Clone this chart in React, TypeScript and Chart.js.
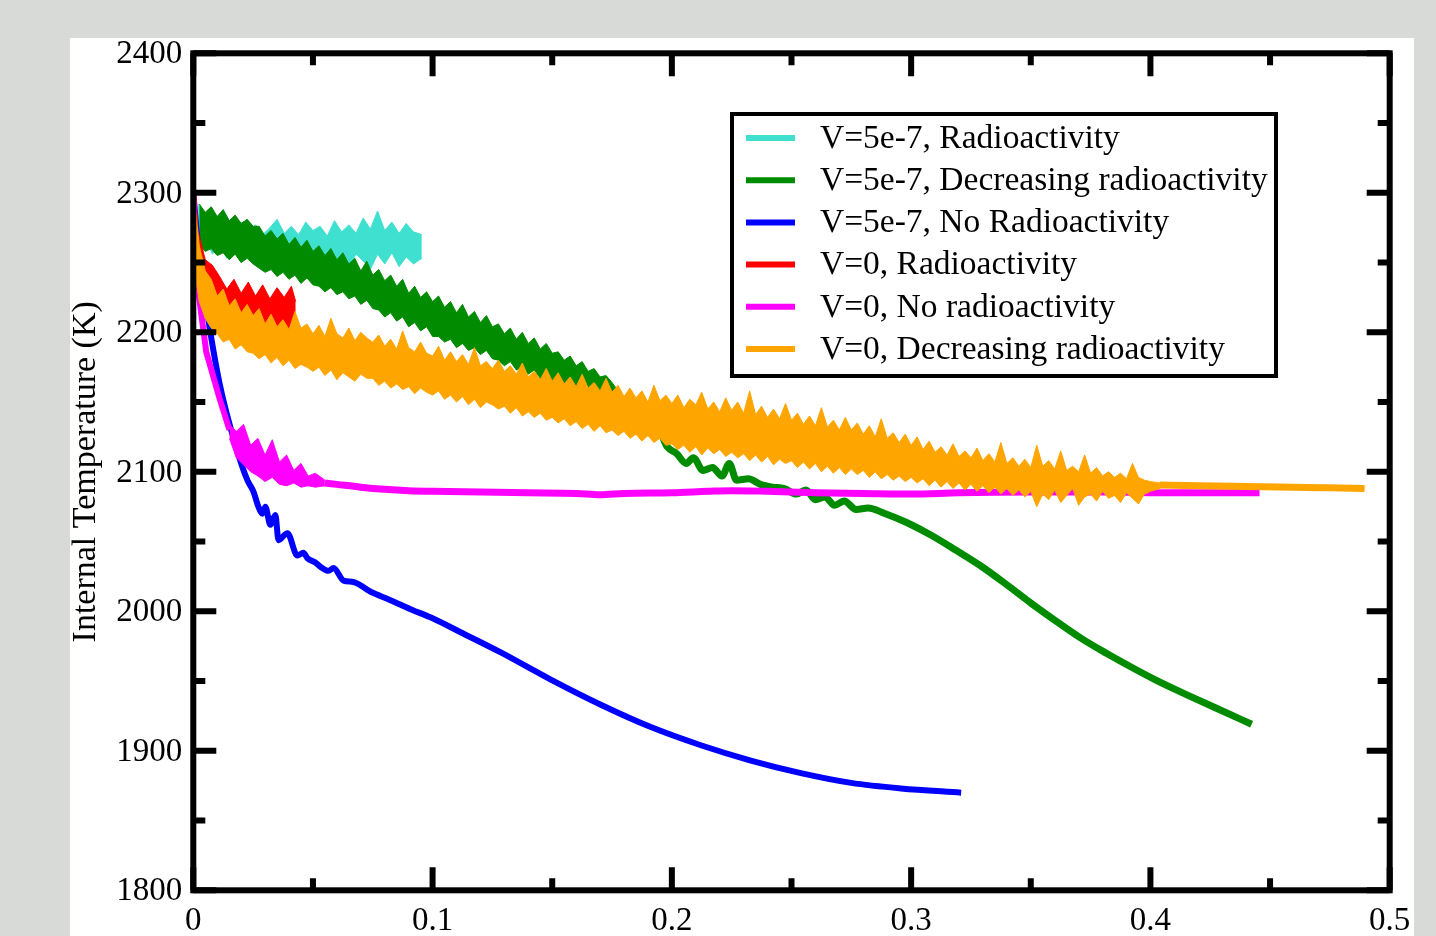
import React, { useEffect, useRef } from 'react';
import { Chart, registerables } from 'chart.js';

Chart.register(...registerables);

const FONT = '"Liberation Serif", "Times New Roman", serif';

// ---- legend ----
const legendLabels = [
  'V=5e-7, Radioactivity',
  'V=5e-7, Decreasing radioactivity',
  'V=5e-7, No Radioactivity',
  'V=0, Radioactivity',
  'V=0, No radioactivity',
  'V=0, Decreasing radioactivity',
];
const legendColors = ['#40e0d0', '#008b00', '#0000ff', '#ff0000', '#ff00ff', '#ffa500'];

// ---- ticks ----
const xMajorTicks = [0, 0.1, 0.2, 0.3, 0.4, 0.5];
const xMinorTicks = [0.05, 0.15, 0.25, 0.35, 0.45];
const yMajorTicks = [1800, 1900, 2000, 2100, 2200, 2300, 2400];
const yMinorTicks = [1850, 1950, 2050, 2150, 2250, 2350];

// ---- V=5e-7, Radioactivity (noisy band: upper / lower envelope) ----
const cyanX = [0.002, 0.005, 0.008, 0.011, 0.014, 0.017, 0.020, 0.023, 0.026, 0.029, 0.032, 0.035, 0.038, 0.041, 0.044, 0.047, 0.050, 0.053, 0.056, 0.059, 0.062, 0.065, 0.068, 0.071, 0.074, 0.077, 0.080, 0.083, 0.086, 0.089, 0.092, 0.0955];
const cyanUpper = [2292, 2281, 2287, 2276, 2283, 2274, 2279, 2272, 2277, 2270, 2275, 2281, 2271, 2276, 2270, 2279, 2273, 2276, 2269, 2280, 2272, 2277, 2271, 2282, 2274, 2287, 2273, 2279, 2271, 2278, 2272, 2270];
const cyanLower = [2262, 2268, 2256, 2263, 2253, 2259, 2250, 2257, 2249, 2255, 2251, 2258, 2247, 2255, 2250, 2257, 2244, 2253, 2256, 2249, 2255, 2247, 2256, 2251, 2245, 2256, 2249, 2257, 2247, 2254, 2249, 2253];

// ---- V=5e-7, Decreasing radioactivity ----
const greenX = [
  0.0025, 0.005, 0.0075, 0.01, 0.0125, 0.015, 0.0175, 0.02, 0.0225, 0.025,
  0.0275, 0.03, 0.0325, 0.035, 0.0375, 0.04, 0.0425, 0.045, 0.0475, 0.05,
  0.0525, 0.055, 0.0575, 0.06, 0.0625, 0.065, 0.0675, 0.07, 0.0725, 0.075,
  0.0775, 0.08, 0.0825, 0.085, 0.0875, 0.09, 0.0925, 0.095, 0.0975, 0.1,
  0.1025, 0.105, 0.1075, 0.11, 0.1125, 0.115, 0.1175, 0.12, 0.1225, 0.125,
  0.1275, 0.13, 0.1325, 0.135, 0.1375, 0.14, 0.1425, 0.145, 0.1475, 0.15,
  0.1525, 0.155, 0.1575, 0.16, 0.1625, 0.165, 0.1675, 0.17, 0.1725, 0.175,
  0.1775, 0.18,
];
const greenUpper = [
  2292, 2286, 2290, 2283, 2288, 2280, 2284, 2278, 2281, 2276,
  2276, 2269, 2273, 2267, 2271, 2263, 2268, 2261, 2266, 2258,
  2262, 2255, 2260, 2252, 2257, 2249, 2253, 2244, 2251, 2241,
  2245, 2237, 2241, 2233, 2238, 2228, 2233, 2225, 2229, 2222,
  2226, 2218, 2222, 2214, 2220, 2211, 2215, 2207, 2212, 2204,
  2206, 2199, 2203, 2195, 2200, 2192, 2196, 2188, 2192, 2185,
  2186, 2180, 2183, 2176, 2179, 2172, 2174, 2168, 2169, 2164,
  2158, 2150,
];
const greenLower = [
  2262, 2258, 2260, 2255, 2257, 2252, 2256, 2250, 2253, 2249,
  2246, 2243, 2245, 2240, 2243, 2238, 2241, 2235, 2239, 2234,
  2233, 2229, 2232, 2227, 2229, 2224, 2226, 2220, 2223, 2217,
  2216, 2211, 2214, 2208, 2211, 2204, 2207, 2201, 2204, 2197,
  2197, 2193, 2195, 2189, 2192, 2187, 2189, 2184, 2187, 2181,
  2180, 2176, 2179, 2173, 2175, 2170, 2173, 2167, 2170, 2164,
  2166, 2161, 2163, 2158, 2160, 2154, 2156, 2151, 2152, 2147,
  2145, 2141,
];
const greenLineX = [0.18, 0.185, 0.19, 0.194, 0.198, 0.202, 0.206, 0.209, 0.213, 0.217, 0.221, 0.224, 0.227, 0.232, 0.237, 0.242, 0.247, 0.252, 0.256, 0.260, 0.264, 0.268, 0.272, 0.277, 0.282, 0.2887, 0.2979, 0.3084, 0.3188, 0.3293, 0.3397, 0.3502, 0.3607, 0.3711, 0.3816, 0.3921, 0.4025, 0.413, 0.4276, 0.4423];
const greenLineY = [2143, 2136, 2128, 2131, 2118, 2113, 2106, 2110, 2101, 2103, 2097, 2106, 2094, 2095, 2091, 2089, 2088, 2084, 2087, 2080, 2082, 2076, 2079, 2073, 2074, 2070.3, 2063.8, 2054.5, 2043.7, 2032.3, 2019.4, 2005.7, 1992.8, 1980.6, 1969.9, 1959.9, 1950.5, 1941.9, 1930.5, 1919];

// ---- V=5e-7, No Radioactivity ----
const blueX = [0, 0.002, 0.0054, 0.0109, 0.018, 0.0226, 0.0251, 0.0272, 0.0289, 0.0301, 0.0322, 0.0343, 0.0356, 0.0393, 0.0435, 0.046, 0.0477, 0.051, 0.0531, 0.0565, 0.0586, 0.0628, 0.0669, 0.0741, 0.0824, 0.0908, 0.1, 0.1117, 0.1285, 0.1494, 0.1703, 0.1912, 0.2121, 0.233, 0.2539, 0.2749, 0.2958, 0.3209];
const blueY = [2300, 2262, 2219, 2164, 2117, 2094, 2086, 2075, 2070, 2075, 2062, 2069, 2051, 2056, 2040, 2042, 2038, 2035, 2032, 2029, 2031, 2022, 2021, 2014, 2008, 2001.5, 1995, 1985, 1970.5, 1951, 1933, 1917, 1904, 1893, 1884, 1877, 1873, 1870];

// ---- V=0, Radioactivity (noisy band) ----
const redX = [0.0005, 0.002, 0.005, 0.008, 0.011, 0.014, 0.017, 0.020, 0.023, 0.026, 0.029, 0.032, 0.035, 0.038, 0.041, 0.0428];
const redUpper = [2316, 2272, 2252, 2248, 2240, 2231, 2238, 2228, 2236, 2226, 2234, 2224, 2232, 2225, 2233, 2222];
const redLower = [2292, 2250, 2228, 2219, 2211, 2207, 2209, 2203, 2206, 2201, 2204, 2199, 2203, 2198, 2201, 2203];

// ---- V=0, No radioactivity ----
const magDropX = [0, 0.0013, 0.0054, 0.0109, 0.0151];
const magDropY = [2298, 2240, 2186, 2153, 2130];
const magBandX = [0.0151, 0.018, 0.021, 0.024, 0.027, 0.030, 0.033, 0.036, 0.039, 0.042, 0.045, 0.048, 0.051, 0.055];
const magUpper = [2134, 2129, 2134, 2119, 2124, 2112, 2123, 2107, 2112, 2101, 2106, 2097, 2099, 2094];
const magLower = [2124, 2110, 2105, 2100, 2097, 2093, 2096, 2091, 2090, 2092, 2089, 2090, 2089, 2090];
const magFlatX = [0.055, 0.06, 0.07, 0.08, 0.09, 0.1, 0.12, 0.14, 0.16, 0.17, 0.18, 0.2, 0.215, 0.225, 0.24, 0.26, 0.28, 0.3, 0.32, 0.35, 0.38, 0.41, 0.4456];
const magFlatY = [2092, 2091, 2089, 2087.5, 2086.5, 2086, 2085.5, 2085, 2084.5, 2083.5, 2084.5, 2085, 2086, 2086.5, 2086, 2085, 2084.5, 2084, 2085, 2085.5, 2085.5, 2085, 2085];

// ---- V=0, Decreasing radioactivity ----
const orangeX = [
  0, 0.0025, 0.005, 0.0075, 0.01, 0.0125, 0.015, 0.0175, 0.02, 0.0225,
  0.025, 0.0275, 0.03, 0.0325, 0.035, 0.0375, 0.04, 0.0425, 0.045, 0.0475,
  0.05, 0.0525, 0.055, 0.0575, 0.06, 0.0625, 0.065, 0.0675, 0.07, 0.0725,
  0.075, 0.0775, 0.08, 0.0825, 0.085, 0.0875, 0.09, 0.0925, 0.095, 0.0975,
  0.1, 0.1025, 0.105, 0.1075, 0.11, 0.1125, 0.115, 0.1175, 0.12, 0.1225,
  0.125, 0.1275, 0.13, 0.1325, 0.135, 0.1375, 0.14, 0.1425, 0.145, 0.1475,
  0.15, 0.1525, 0.155, 0.1575, 0.16, 0.1625, 0.165, 0.1675, 0.17, 0.1725,
  0.175, 0.1775, 0.18, 0.1825, 0.185, 0.1875, 0.19, 0.1925, 0.195, 0.1975,
  0.2, 0.2025, 0.205, 0.2075, 0.21, 0.2125, 0.215, 0.2175, 0.22, 0.2225,
  0.225, 0.2275, 0.23, 0.2325, 0.235, 0.2375, 0.24, 0.2425, 0.245, 0.2475,
  0.25, 0.2525, 0.255, 0.2575, 0.26, 0.2625, 0.265, 0.2675, 0.27, 0.2725,
  0.275, 0.2775, 0.28, 0.2825, 0.285, 0.2875, 0.29, 0.2925, 0.295, 0.2975,
  0.3, 0.3025, 0.305, 0.3075, 0.31, 0.3125, 0.315, 0.3175, 0.32, 0.3225,
  0.325, 0.3275, 0.33, 0.3325, 0.335, 0.3375, 0.34, 0.3425, 0.345, 0.3475,
  0.35, 0.3525, 0.355, 0.3575, 0.36, 0.3625, 0.365, 0.3675, 0.37, 0.3725,
  0.375, 0.3775, 0.38, 0.3825, 0.385, 0.3875, 0.39, 0.3925, 0.395, 0.3975,
  0.4, 0.404,
];
const orangeUpper = [
  2302, 2262, 2244, 2238, 2226, 2231, 2219, 2224, 2214, 2220,
  2212, 2217, 2206, 2213, 2204, 2209, 2202, 2215, 2203, 2206,
  2199, 2205, 2197, 2210, 2199, 2196, 2203, 2194, 2200, 2196,
  2193, 2198, 2190, 2195, 2188, 2201, 2189, 2186, 2193, 2185,
  2183, 2190, 2180, 2186, 2179, 2184, 2177, 2189, 2176, 2179,
  2174, 2180, 2172, 2176, 2170, 2178, 2168, 2172, 2166, 2174,
  2165, 2171, 2163, 2168, 2161, 2170, 2160, 2164, 2158, 2167,
  2157, 2162, 2154, 2160, 2153, 2158, 2150, 2162, 2151, 2155,
  2149, 2155, 2146, 2152, 2148, 2157, 2145, 2150, 2143, 2153,
  2144, 2150, 2142, 2158, 2141, 2147, 2139, 2145, 2138, 2149,
  2137, 2142, 2134, 2140, 2133, 2146, 2132, 2137, 2130, 2139,
  2130, 2135, 2127, 2133, 2125, 2138, 2124, 2128, 2121, 2127,
  2119, 2125, 2116, 2122, 2114, 2118, 2112, 2120, 2111, 2115,
  2110, 2117, 2108, 2113, 2107, 2121, 2106, 2110, 2104, 2109,
  2103, 2119, 2104, 2108, 2102, 2115, 2101, 2104, 2100, 2112,
  2099, 2103, 2097, 2100, 2096, 2099, 2095, 2106, 2096, 2094,
  2093, 2092,
];
const orangeLower = [
  2250, 2222, 2210, 2203, 2199, 2193, 2195, 2188, 2191, 2186,
  2185, 2181, 2184, 2178, 2182, 2176, 2180, 2174, 2177, 2175,
  2172, 2175, 2169, 2173, 2166, 2171, 2168, 2165, 2170, 2167,
  2167, 2162, 2165, 2160, 2163, 2159, 2161, 2156, 2160, 2157,
  2155, 2158, 2152, 2155, 2150, 2154, 2148, 2152, 2146, 2150,
  2148, 2145, 2147, 2142, 2146, 2140, 2143, 2139, 2142, 2137,
  2139, 2135, 2138, 2133, 2136, 2131, 2134, 2129, 2133, 2128,
  2130, 2126, 2129, 2124, 2127, 2122, 2126, 2121, 2124, 2119,
  2120, 2116, 2119, 2114, 2118, 2112, 2117, 2113, 2116, 2111,
  2114, 2110, 2113, 2108, 2112, 2107, 2111, 2105, 2109, 2106,
  2108, 2103, 2107, 2102, 2106, 2100, 2104, 2099, 2103, 2098,
  2102, 2098, 2101, 2096, 2100, 2095, 2098, 2094, 2097, 2093,
  2096, 2092, 2095, 2090, 2094, 2089, 2093, 2088, 2092, 2087,
  2091, 2086, 2090, 2085, 2089, 2084, 2088, 2083, 2087, 2082,
  2086, 2075, 2084, 2080, 2087, 2078, 2083, 2088, 2076, 2082,
  2084, 2079, 2086, 2081, 2083, 2078, 2085, 2081, 2077, 2084,
  2086, 2088,
];
const orangeTailX = [0.404, 0.42, 0.44, 0.46, 0.475, 0.4895];
const orangeTailY = [2090.5, 2090, 2089.5, 2089, 2088.5, 2088];

const pts = (xs: number[], ys: number[]) => xs.map((x, i) => ({ x, y: ys[i] }));

function band(xs: number[], lo: number[], hi: number[], color: string) {
  return [
    { data: pts(xs, lo), borderColor: color, borderWidth: 1, backgroundColor: color, fill: false, tension: 0 },
    { data: pts(xs, hi), borderColor: color, borderWidth: 1, backgroundColor: color, fill: '-1', tension: 0 },
  ];
}

function line(xs: number[], ys: number[], color: string, width: number, smooth = false) {
  return {
    data: pts(xs, ys),
    borderColor: color,
    borderWidth: width,
    fill: false,
    tension: 0,
    cubicInterpolationMode: smooth ? 'monotone' : 'default',
    borderCapStyle: 'butt',
    borderJoinStyle: 'round',
  };
}

export default function App() {
  const ref = useRef<HTMLCanvasElement>(null);

  useEffect(() => {
    const c = legendColors;
    const sets: any[] = [
      ...band(cyanX, cyanLower, cyanUpper, c[0]),
      ...band(greenX, greenLower, greenUpper, c[1]),
      line(greenLineX, greenLineY, c[1], 7, true),
      line(blueX, blueY, c[2], 6, true),
      ...band(redX, redLower, redUpper, c[3]),
      line(magDropX, magDropY, c[4], 6),
      ...band(magBandX, magLower, magUpper, c[4]),
      line(magFlatX, magFlatY, c[4], 7, true),
      ...band(orangeX, orangeLower, orangeUpper, c[5]),
      line(orangeTailX, orangeTailY, c[5], 7, true),
    ];
    const n = sets.length;
    sets.forEach((s, i) => {
      s.order = n - i;
      s.pointRadius = 0;
      s.pointHoverRadius = 0;
    });

    const framePlugin = {
      id: 'frame',
      afterDatasetsDraw(chart: any) {
        const ctx = chart.ctx;
        const a = chart.chartArea;
        const xs = chart.scales.x;
        const ys = chart.scales.y;
        ctx.save();
        ctx.strokeStyle = '#000';
        ctx.lineWidth = 6;
        ctx.lineCap = 'butt';
        const tick = (vals: number[], len: number) => {
          vals.forEach((v) => {
            const px = xs.getPixelForValue(v);
            ctx.beginPath();
            ctx.moveTo(px, a.bottom);
            ctx.lineTo(px, a.bottom - len);
            ctx.moveTo(px, a.top);
            ctx.lineTo(px, a.top + len);
            ctx.stroke();
          });
        };
        const ytick = (vals: number[], len: number) => {
          vals.forEach((v) => {
            const py = ys.getPixelForValue(v);
            ctx.beginPath();
            ctx.moveTo(a.left, py);
            ctx.lineTo(a.left + len, py);
            ctx.moveTo(a.right, py);
            ctx.lineTo(a.right - len, py);
            ctx.stroke();
          });
        };
        tick(xMajorTicks, 23);
        tick(xMinorTicks, 12);
        ytick(yMajorTicks, 23);
        ytick(yMinorTicks, 12);
        ctx.lineJoin = 'miter';
        ctx.strokeRect(a.left, a.top, a.right - a.left, a.bottom - a.top);
        ctx.restore();
      },
      afterDraw(chart: any) {
        const ctx = chart.ctx;
        ctx.save();
        ctx.fillStyle = '#fff';
        ctx.fillRect(732, 114, 544, 262);
        ctx.strokeStyle = '#000';
        ctx.lineWidth = 4;
        ctx.strokeRect(732, 114, 544, 262);
        ctx.font = `33.5px ${FONT}`;
        ctx.textBaseline = 'middle';
        ctx.textAlign = 'left';
        legendLabels.forEach((lab, i) => {
          const y = 138 + i * 42.2;
          ctx.strokeStyle = legendColors[i];
          ctx.lineWidth = 6;
          ctx.beginPath();
          ctx.moveTo(746, y);
          ctx.lineTo(795, y);
          ctx.stroke();
          ctx.fillStyle = '#000';
          ctx.fillText(lab, 820, y + 1);
        });
        ctx.restore();
      },
    };

    const chart = new Chart(ref.current as HTMLCanvasElement, {
      type: 'line',
      data: { datasets: sets },
      options: {
        responsive: false,
        animation: false,
        devicePixelRatio: 1,
        layout: { padding: { left: 0, right: 46.3, top: 53.3, bottom: 0 } },
        plugins: { legend: { display: false }, tooltip: { enabled: false } },
        scales: {
          x: {
            type: 'linear',
            min: 0,
            max: 0.5,
            grid: { display: false },
            border: { display: false },
            afterFit: (s: any) => { s.height = 45.7; },
            afterBuildTicks: (s: any) => { s.ticks = xMajorTicks.map((v) => ({ value: v })); },
            ticks: {
              color: '#000',
              padding: 3,
              maxRotation: 0,
              font: { family: FONT, size: 33 },
              callback: (v: any) => String(Number(Number(v).toFixed(2))),
            },
          },
          y: {
            type: 'linear',
            min: 1800,
            max: 2400,
            grid: { display: false },
            border: { display: false },
            afterFit: (s: any) => { s.width = 193.3; },
            afterBuildTicks: (s: any) => { s.ticks = yMajorTicks.map((v) => ({ value: v })); },
            ticks: {
              color: '#000',
              padding: 3,
              labelOffset: 1.5,
              font: { family: FONT, size: 33 },
              callback: (v: any) => String(v),
            },
            title: {
              display: true,
              text: 'Internal Temperature (K)',
              color: '#000',
              font: { family: FONT, size: 34 },
              padding: { top: 65.6, bottom: 0 },
            },
          },
        },
      },
      plugins: [framePlugin],
    } as any);
    return () => chart.destroy();
  }, []);

  return (
    <div style={{ position: 'fixed', left: 0, top: 0, width: 1436, height: 936, background: '#d8dad7', overflow: 'hidden' }}>
      <div style={{ position: 'absolute', left: 70, top: 38, width: 1344, height: 898, background: '#fff' }} />
      <canvas ref={ref} width={1436} height={936} style={{ position: 'absolute', left: 0, top: 0, width: 1436, height: 936 }} />
    </div>
  );
}
